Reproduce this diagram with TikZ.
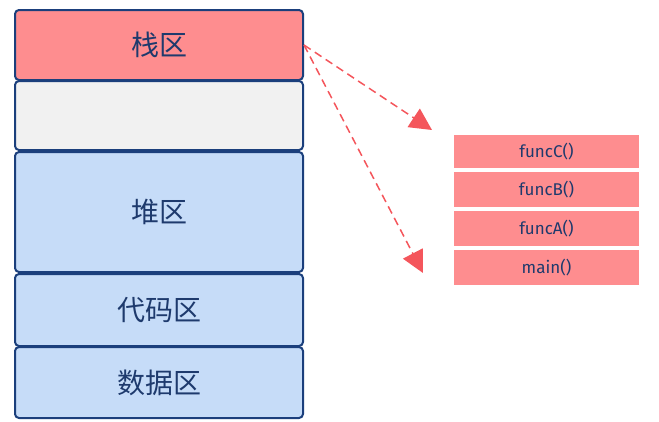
\documentclass[tikz,border=0pt]{standalone}
\usepackage{fontspec}
\setmainfont{Fira Sans}
\newfontfamily\cjk{Noto Sans CJK SC}
\usetikzlibrary{arrows.meta}
\definecolor{memline}{HTML}{1B3F7C}
\definecolor{txt}{HTML}{1E3A6D}
\definecolor{stackc}{HTML}{FE8D8F}
\definecolor{grayc}{HTML}{F1F1F1}
\definecolor{bluec}{HTML}{C6DCF8}
\definecolor{arrc}{HTML}{F4565C}
\begin{document}
\begin{tikzpicture}[x=1pt,y=-1pt,
  mem/.style={draw=memline, line width=2pt, rounded corners=4pt, minimum width=288pt,
    text=txt, font=\cjk\fontsize{28}{28}\selectfont, inner sep=0pt},
  framebox/.style={fill=stackc, minimum width=185pt, text=txt,
    font=\fontsize{17}{17}\selectfont, inner sep=0pt},
  arr/.style={draw=arrc, line width=1.5pt, dash pattern=on 8pt off 5pt,
    -{Triangle[length=22pt,width=22pt,fill=arrc]}}]
\useasboundingbox (0,0) rectangle (659,421);
\node[mem, fill=stackc, minimum height=70pt] (stack) at (159,45) {栈区};
\node[mem, fill=grayc, minimum height=69pt] (gap) at (159,115.5) {};
\node[mem, fill=bluec, minimum height=120pt] (heap) at (159,212) {堆区};
\node[mem, fill=bluec, minimum height=72pt] (code) at (159,310) {代码区};
\node[mem, fill=bluec, minimum height=71pt] (data) at (159,382.5) {数据区};
\node[framebox, minimum height=33pt] (fc) at (546.5,151.5) {funcC()};
\node[framebox, minimum height=35pt] (fb) at (546.5,189.5) {funcB()};
\node[framebox, minimum height=35pt] (fa) at (546.5,228.5) {funcA()};
\node[framebox, minimum height=35pt] (fm) at (546.5,267.5) {main()};
\coordinate (t1) at (432,130);
\coordinate (t2) at (423,273);
\draw[arr] (stack.east) -- (t1);
\draw[arr] (stack.east) -- (t2);
\end{tikzpicture}
\end{document}
